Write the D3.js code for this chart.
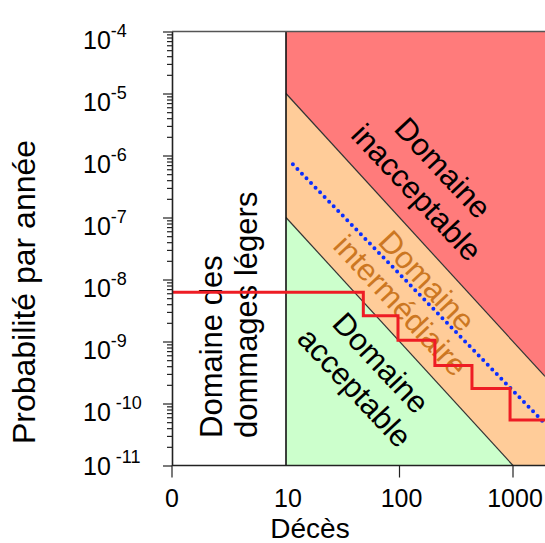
<!DOCTYPE html>
<html>
<head>
<meta charset="utf-8">
<script src="https://cdn.jsdelivr.net/npm/d3@7"></script>
<style>
  html, body { margin: 0; padding: 0; background: #fff; }
  svg { display: block; font-family: "Liberation Sans", Arial, sans-serif; }
</style>
</head>
<body>
<svg id="chart" width="545" height="543"></svg>
<script>
// ---- data ----
const yTickExponents = [-4, -5, -6, -7, -8, -9, -10, -11];
const yTickLabels = ["-4", "-5", "-6", "-7", "-8", "-9", " -10", " -11"];
const xTickValues = [0, 10, 100, 1000];
const xTickLabels = ["0", "10", "100", "1000"];

// F-N boundary lines (deaths, probability per year)
const upperLineX = [10, 1914];
const upperLineY = [1e-5, 2.73e-10];
const lowerLineX = [10, 1000];
const lowerLineY = [1e-7, 1e-11];

// blue dotted line
const blueX = [11.5, 1840];
const blueY = [7.2e-7, 5.1e-11];

// red step curve
const redX = [0, 48, 97, 205, 435, 942, 1914];
const redY = [6.2e-9, 2.6e-9, 1.05e-9, 4.1e-10, 1.74e-10, 5.4e-11, 5.4e-11];

const xMin = 0, xSplit = 10, xMax = 1914;
const yMin = 1e-11, yMax = 1e-4;

// ---- scales ----
const pLeft = 172, pSplit = 286, pRight = 545, pTop = 31.5, pBottom = 465.5;
const xLin = d3.scaleLinear().domain([xMin, xSplit]).range([pLeft, pSplit]);
const xLog = d3.scaleLog().domain([xSplit, xMax]).range([pSplit, pRight]);
const x = v => (v <= xSplit ? xLin(v) : xLog(v));
const y = d3.scaleLog().domain([yMin, yMax]).range([pBottom, pTop]);

const svg = d3.select("#chart");

const poly = pts => pts.map(p => [x(p[0]), y(p[1])].join(",")).join(" ");

// regions
const redPoly = [[xSplit, yMax], [xMax, yMax], [upperLineX[1], upperLineY[1]], [upperLineX[0], upperLineY[0]]];
const orangePoly = [[upperLineX[0], upperLineY[0]], [upperLineX[1], upperLineY[1]], [xMax, yMin],
                    [lowerLineX[1], lowerLineY[1]], [lowerLineX[0], lowerLineY[0]]];
const greenPoly = [[lowerLineX[0], lowerLineY[0]], [lowerLineX[1], lowerLineY[1]], [xSplit, yMin]];

svg.append("polygon").attr("points", poly(redPoly)).attr("fill", "#ff7b7b");
svg.append("polygon").attr("points", poly(orangePoly)).attr("fill", "#ffcc99");
svg.append("polygon").attr("points", poly(greenPoly)).attr("fill", "#ccffcc");

const line = d3.line().x(d => x(d[0])).y(d => y(d[1]));
svg.append("path").attr("d", line(d3.zip(upperLineX, upperLineY)))
  .attr("stroke", "#333").attr("stroke-width", 1.2).attr("fill", "none");
svg.append("path").attr("d", line(d3.zip(lowerLineX, lowerLineY)))
  .attr("stroke", "#333").attr("stroke-width", 1.2).attr("fill", "none");

// vertical separator at 10 and top border
svg.append("line").attr("x1", x(xSplit)).attr("x2", x(xSplit)).attr("y1", y(yMax)).attr("y2", y(yMin))
  .attr("stroke", "#111").attr("stroke-width", 1.6);
svg.append("line").attr("x1", x(xMin)).attr("x2", pRight).attr("y1", y(yMax)).attr("y2", y(yMax))
  .attr("stroke", "#555").attr("stroke-width", 1.5);

// region labels
function diagLabel(cx, cy, angle, lines, color) {
  const t = svg.append("text")
    .attr("transform", `translate(${cx},${cy}) rotate(${angle})`)
    .attr("text-anchor", "middle").attr("font-size", 31).attr("fill", color);
  const spacing = 36;
  lines.forEach((s, i) => {
    t.append("tspan").attr("x", 0)
      .attr("y", (i - (lines.length - 1) / 2) * spacing + 11).text(s);
  });
}
diagLabel(430, 180, 47, ["Domaine", "inacceptable"], "#000");
diagLabel(414, 293, 47, ["Domaine", "intermédiaire"], "#cc7722");
diagLabel(368, 375, 47, ["Domaine", "acceptable"], "#000");

const dl = svg.append("text").attr("transform", "translate(222,438) rotate(-90)")
  .attr("font-size", 31).attr("fill", "#000");
dl.append("tspan").attr("x", 0).attr("y", 0).text("Domaine des");
dl.append("tspan").attr("x", 0).attr("y", 35).text("dommages légers");

// blue dotted
svg.append("path").attr("d", line(d3.zip(blueX, blueY)))
  .attr("stroke", "#0b2eff").attr("stroke-width", 4).attr("fill", "none")
  .attr("stroke-linecap", "round").attr("stroke-dasharray", "0,6.5");

// red step
const stepLine = d3.line().x(d => x(d[0])).y(d => y(d[1])).curve(d3.curveStepAfter);
svg.append("path").attr("d", stepLine(d3.zip(redX, redY)))
  .attr("stroke", "#ee1c24").attr("stroke-width", 3).attr("fill", "none");

// ---- axes ----
const majors = yTickExponents.map(e => Math.pow(10, e));
const minors = [];
for (let e = -11; e < -4; e++) for (let k = 2; k <= 9; k++) minors.push(k * Math.pow(10, e));

const yAxis = svg.append("g").attr("transform", `translate(${pLeft},0)`)
  .call(d3.axisLeft(y).tickValues(majors).tickSize(9).tickSizeOuter(0).tickFormat(""));
svg.append("g").attr("transform", `translate(${pLeft},0)`)
  .call(d3.axisLeft(y).tickValues(minors).tickSize(5).tickSizeOuter(0).tickFormat(""))
  .select(".domain").remove();
svg.selectAll(".tick line").attr("stroke", "#222").attr("stroke-width", 1.2);
yAxis.select(".domain").attr("stroke", "#222").attr("stroke-width", 1.6);

// y tick labels with superscript
yTickExponents.forEach((e, i) => {
  const yy = y(Math.pow(10, e)) + (i === yTickExponents.length - 1 ? 9 : 17);
  const t = svg.append("text").attr("x", 83).attr("y", yy).attr("font-size", 25).attr("fill", "#000")
    .style("white-space", "pre");
  t.append("tspan").text("10");
  t.append("tspan").attr("font-size", 18).attr("dy", -12).text(yTickLabels[i]);
});

// x axis
const xAxisG = svg.append("g").attr("transform", `translate(0,${pBottom})`);
xAxisG.append("line").attr("x1", pLeft).attr("x2", pRight).attr("stroke", "#222").attr("stroke-width", 1.6);
xTickValues.forEach((v, i) => {
  if (v !== xSplit) {
    xAxisG.append("line").attr("x1", x(v)).attr("x2", x(v)).attr("y1", 0).attr("y2", 12)
      .attr("stroke", "#222").attr("stroke-width", 1.2);
  }
  xAxisG.append("text").attr("x", x(v) + (v === 0 ? 0 : 2)).attr("y", 41).attr("text-anchor", "middle")
    .attr("font-size", 25).attr("fill", "#000").text(xTickLabels[i]);
});

// axis titles
svg.append("text").attr("x", 310).attr("y", 537.5).attr("text-anchor", "middle")
  .attr("font-size", 28).attr("fill", "#000").text("Décès");
svg.append("text").attr("transform", "translate(35,292) rotate(-90)").attr("text-anchor", "middle")
  .attr("font-size", 32).attr("fill", "#000").text("Probabilité par année");
</script>
</body>
</html>
